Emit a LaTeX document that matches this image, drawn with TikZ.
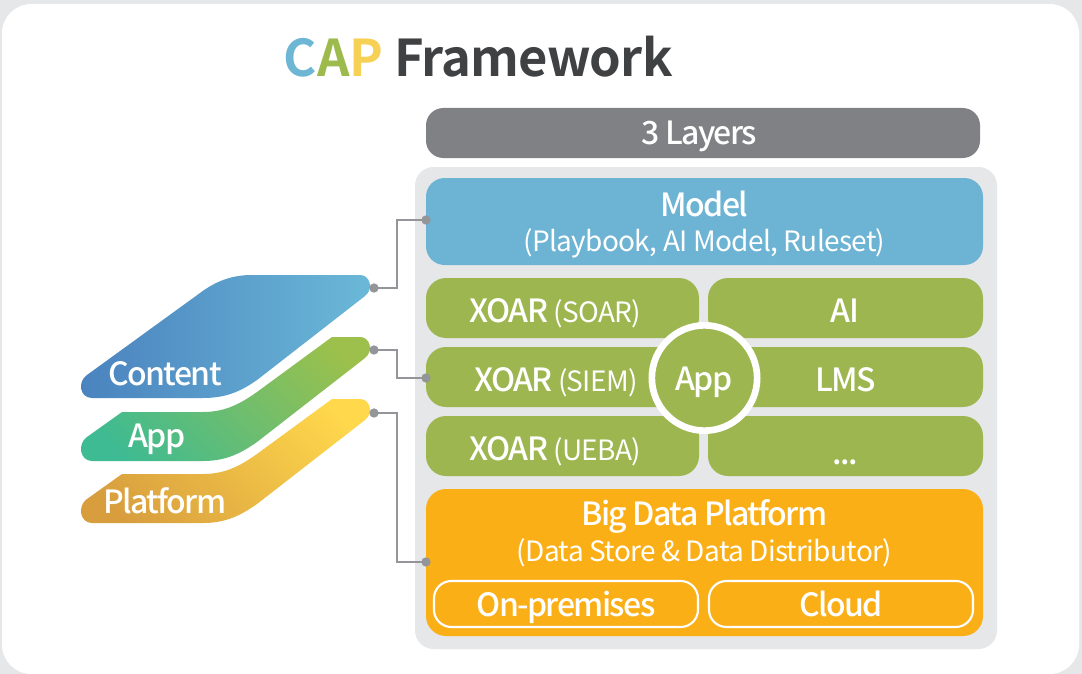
\documentclass[tikz,border=0pt]{standalone}
\usepackage{fontspec}
\setmainfont{Noto Sans CJK KR}
\newfontfamily\boldcjk[LetterSpace=-1.5]{Noto Sans CJK KR Bold}
\newfontfamily\mainlab[LetterSpace=-5]{Noto Sans CJK KR Medium}
\newfontfamily\sublabf[LetterSpace=-2.5]{Noto Sans CJK KR}
\definecolor{pagebg}{HTML}{E6E7E8}
\definecolor{panelbg}{HTML}{E6E7E8}
\definecolor{hdr}{HTML}{808184}
\definecolor{modelc}{HTML}{6DB3D3}
\definecolor{greenc}{HTML}{9DB64F}
\definecolor{orangec}{HTML}{FBAF17}
\definecolor{conn}{HTML}{939598}
\definecolor{titledark}{HTML}{404143}
\definecolor{titleblue}{HTML}{6DB6D4}
\definecolor{titlegreen}{HTML}{9DBB4D}
\definecolor{titleyellow}{HTML}{F6D155}
\definecolor{contentA}{HTML}{4A82BE}
\definecolor{contentB}{HTML}{6BB9D8}
\definecolor{appA}{HTML}{3EBB92}
\definecolor{appB}{HTML}{9CC04B}
\definecolor{platA}{HTML}{D89E3E}
\definecolor{platB}{HTML}{FFD84C}
\pgfdeclareverticalshading{appshade}{100bp}{color(0bp)=(appA); color(31bp)=(appA); color(69bp)=(appB); color(100bp)=(appB)}
\pgfdeclareverticalshading{platshade}{100bp}{color(0bp)=(platA); color(31bp)=(platA); color(69bp)=(platB); color(100bp)=(platB)}
\tikzset{
 x=0.75pt,y=-0.75pt,
 conline/.style={draw=conn,line width=1.5pt},
 dotn/.style={circle,fill=conn,inner sep=0pt,minimum size=7pt},
 lab/.style={text=white,font=\mainlab\fontsize{24}{29}\selectfont,inner sep=0pt,anchor=base},
 sublab/.style={lab,font=\sublabf\fontsize{21}{25}\selectfont},
 swlab/.style={lab,anchor=base west},
}
\newcommand{\smallp}{\sublabf\fontsize{21}{25}\selectfont}
\begin{document}
\begin{tikzpicture}
\useasboundingbox (0,0) rectangle (1082,674);
\fill[pagebg] (0,0) rectangle (1082,674);
\fill[white,rounded corners=22pt] (2,4) rectangle (1079,674);
% title
\node[anchor=base west,inner sep=0pt,font=\boldcjk\fontsize{38}{44}\selectfont] (title) at (283.5,77)
 {\textcolor{titleblue}{C}\textcolor{titlegreen}{A}\textcolor{titleyellow}{P}~\textcolor{titledark}{Framework}};
% panel
\fill[panelbg,rounded corners=14pt] (415,167) rectangle (997,649);
\fill[hdr,rounded corners=13pt] (426,108) rectangle (980,158);
\node[lab] (hdrt) at (699,144) {3 Layers};
\fill[modelc,rounded corners=14pt] (426,178) rectangle (983,265);
\node[lab] (m1) at (704.5,216) {Model};
\node[sublab] (m2) at (704.5,251) {(Playbook, AI Model, Ruleset)};
% green rows
\foreach \ya/\yb in {278/338,347/407,416/476}{
 \fill[greenc,rounded corners=15pt] (426,\ya) rectangle (699,\yb);
 \fill[greenc,rounded corners=15pt] (708,\ya) rectangle (983,\yb);
}
\node[lab] (x1) at (555.5,322) {XOAR {\smallp(SOAR)}};
\node[lab] (x2) at (556,391) {XOAR {\smallp(SIEM)}};
\node[lab] (x3) at (555.5,460) {XOAR {\smallp(UEBA)}};
\node[lab] (r1) at (845,322) {AI};
\node[lab] (r2) at (846,391.5) {LMS};
\node[lab] (r3) at (845,464) {...};
\node[circle,fill=greenc,draw=white,line width=5pt,minimum size=79pt,inner sep=0pt] (appc) at (704.5,378) {};
\node[lab] (appt) at (704,390) {App};
% orange
\fill[orangec,rounded corners=15pt] (426,489) rectangle (983,636);
\node[lab] (b1) at (704.5,525) {Big Data Platform};
\node[sublab] (b2) at (704.5,561) {(Data Store \& Data Distributor)};
\draw[white,line width=1.6pt,rounded corners=13pt] (434,581) rectangle (698,627);
\draw[white,line width=1.6pt,rounded corners=13pt] (709,581) rectangle (973,627);
\node[lab] (op) at (566,616) {On-premises};
\node[lab] (cl) at (841,616) {Cloud};
% swooshes
\shade[left color=contentA,right color=contentB,shading angle=90]
 (252,275) -- (360,275) .. controls (370,275) and (374,289) .. (365,296)
 -- (257,380) .. controls (240,392) and (225,398) .. (203,398)
 -- (92,398) .. controls (80,398) and (77,382) .. (87,375)
 -- (200,293) .. controls (216,281) and (232,275) .. (252,275) -- cycle;
\begin{scope}
\clip (332,337) -- (360,337) .. controls (370,337) and (374,351) .. (365,358)
 -- (257,442) .. controls (240,454) and (225,461) .. (203,461)
 -- (92,461) .. controls (80,461) and (77,444) .. (87,437)
 -- (122,412) -- (203,412) .. controls (225,412) and (240,404) .. (257,392) -- cycle;
\shade[shading=appshade,shading angle=-45] (76,249) rectangle (376,549);
\end{scope}
\begin{scope}
\clip (332,399) -- (360,399) .. controls (370,399) and (374,413) .. (365,420)
 -- (257,504) .. controls (240,516) and (225,523) .. (203,523)
 -- (92,523) .. controls (80,523) and (77,506) .. (87,499)
 -- (122,474) -- (203,474) .. controls (225,474) and (240,466) .. (257,454) -- cycle;
\shade[shading=platshade,shading angle=-45] (76,311) rectangle (376,611);
\end{scope}
\node[swlab] (lc) at (108,385) {Content};
\node[swlab] (la) at (128,447) {App};
\node[swlab] (lp) at (103,513) {Platform};
% connectors
\node[dotn] (d1) at (374,288) {};
\node[dotn] (e1) at (426,220) {};
\node[dotn] (d2) at (374,350) {};
\node[dotn] (e2) at (426,378) {};
\node[dotn] (d3) at (374,413) {};
\node[dotn] (e3) at (426,562) {};
\coordinate (j1a) at (397,288); \coordinate (j1b) at (397,220);
\coordinate (j2a) at (397,350); \coordinate (j2b) at (397,378);
\coordinate (j3a) at (397,413); \coordinate (j3b) at (397,562);
\draw[conline] (d1.center) -- (j1a) -- (j1b) -- (e1.center);
\draw[conline] (d2.center) -- (j2a) -- (j2b) -- (e2.center);
\draw[conline] (d3.center) -- (j3a) -- (j3b) -- (e3.center);
\end{tikzpicture}
\end{document}
